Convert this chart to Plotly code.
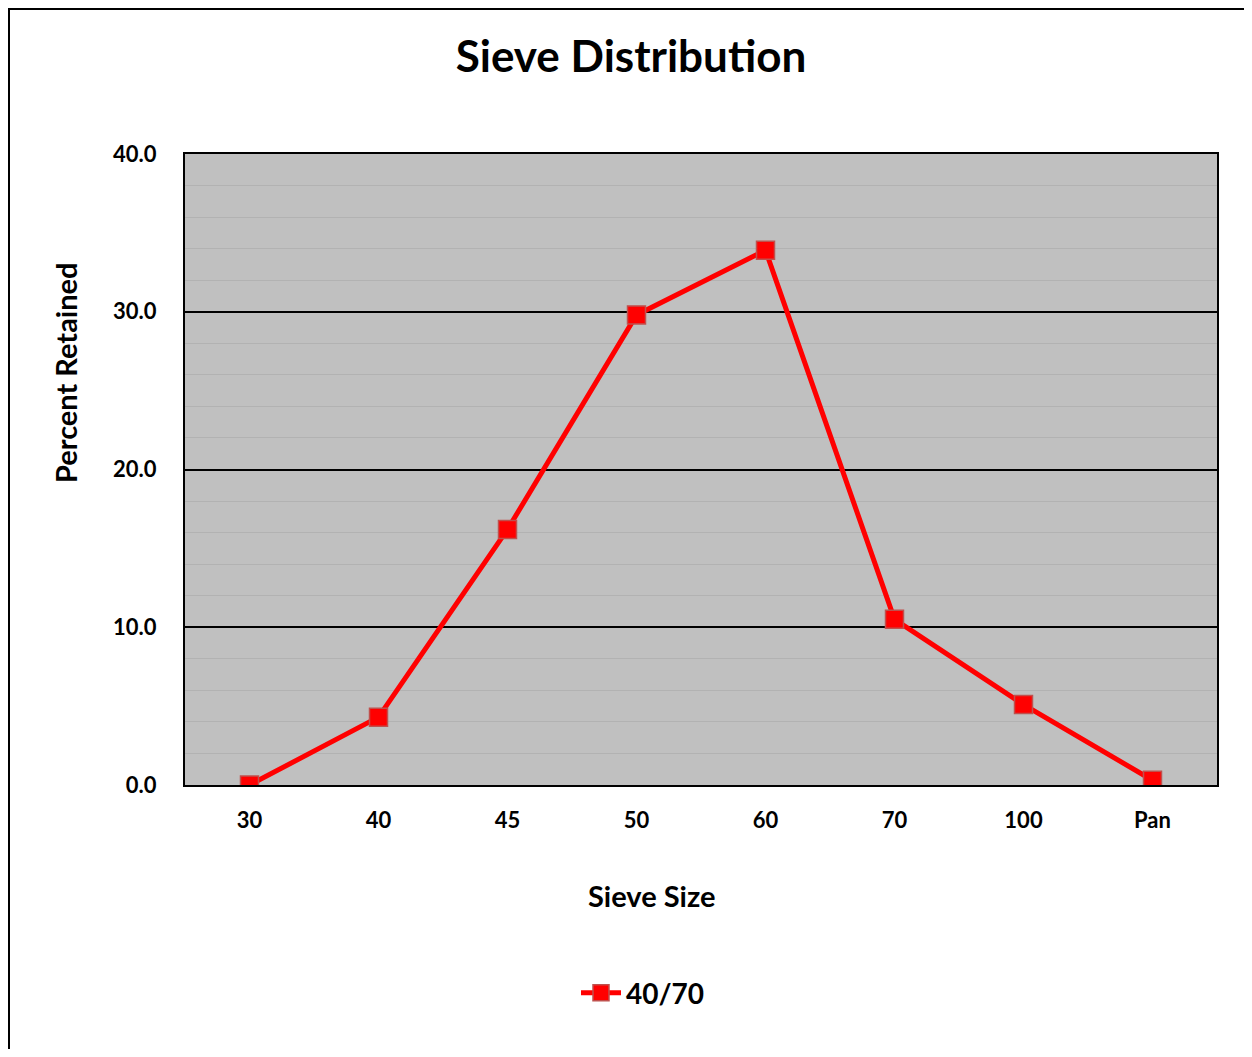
import plotly.graph_objects as go

sieve_sizes = ["30", "40", "45", "50", "60", "70", "100", "Pan"]
percent_retained = [0.0, 4.3, 16.2, 29.8, 33.9, 10.5, 5.1, 0.3]
series_name = "40/70"

OFF = 8  # page body offset
W, H = 1252 - 2 * OFF, 1057 - 2 * OFF
L, R, T, B = 185 - OFF, 1217 - OFF, 154 - OFF, 785 - OFF
pw, ph = R - L, B - T

def px(x):
    return (x - OFF - L) / pw

def py(y):
    return (B - (y - OFF)) / ph

FONT = "Lato"

fig = go.Figure()
fig.add_trace(go.Scatter(
    x=sieve_sizes, y=percent_retained, name=series_name,
    mode="lines+markers",
    line=dict(color="#FF0000", width=5),
    marker=dict(symbol="square", size=18, color="#FF0000",
                line=dict(color="#C0504D", width=1.5)),
))

fig.update_layout(
    width=W, height=H,
    margin=dict(l=L, r=W - R, t=T, b=H - B),
    paper_bgcolor="white",
    plot_bgcolor="#C0C0C0",
    font=dict(family=FONT, color="black"),
    title=dict(text="<b>Sieve Distribution</b>", x=px(631), xref="paper",
               xanchor="center", y=1 - (57 - OFF) / H, yanchor="middle",
               font=dict(size=44, family=FONT, color="black", weight="bold")),
    showlegend=True,
    legend=dict(orientation="h", x=px(643), xanchor="center", y=py(993),
                yanchor="middle",
                font=dict(size=28, family=FONT, color="black", weight="bold"),
                bgcolor="rgba(0,0,0,0)", itemwidth=40),
    xaxis=dict(type="category", range=[-0.5, 7.5],
               showline=True, mirror=True, linecolor="black", linewidth=2,
               showgrid=False, zeroline=False,
               ticks="outside", ticklen=15, tickcolor="rgba(0,0,0,0)",
               tickfont=dict(size=22, family=FONT, color="black", weight="bold"),
               title=None),
    yaxis=dict(range=[0, 40], dtick=10, tickformat=".1f",
               showline=True, mirror=True, linecolor="black", linewidth=2,
               showgrid=True, gridcolor="black", gridwidth=2, zeroline=False,
               minor=dict(dtick=2, showgrid=True, gridcolor="#B2B2B2", gridwidth=1),
               ticks="outside", ticklen=22, tickcolor="rgba(0,0,0,0)",
               tickfont=dict(size=22, family=FONT, color="black", weight="bold"),
               title=None),
    annotations=[
        dict(text="<b>Sieve Size</b>", x=px(651), y=py(896), xref="paper", yref="paper",
             xanchor="center", yanchor="middle", showarrow=False,
             font=dict(size=29, family=FONT, color="black")),
        dict(text="<b>Percent Retained</b>", x=px(65), y=py(373), xref="paper", yref="paper",
             xanchor="center", yanchor="middle", showarrow=False, textangle=-90,
             font=dict(size=29, family=FONT, color="black")),
    ],
    shapes=[
        dict(type="rect", xref="paper", yref="paper",
             x0=px(OFF + 1), x1=px(1270), y0=py(1080), y1=py(OFF + 1),
             line=dict(color="black", width=2), fillcolor="rgba(0,0,0,0)", layer="below"),
    ],
)

fig.write_html("out.html")
